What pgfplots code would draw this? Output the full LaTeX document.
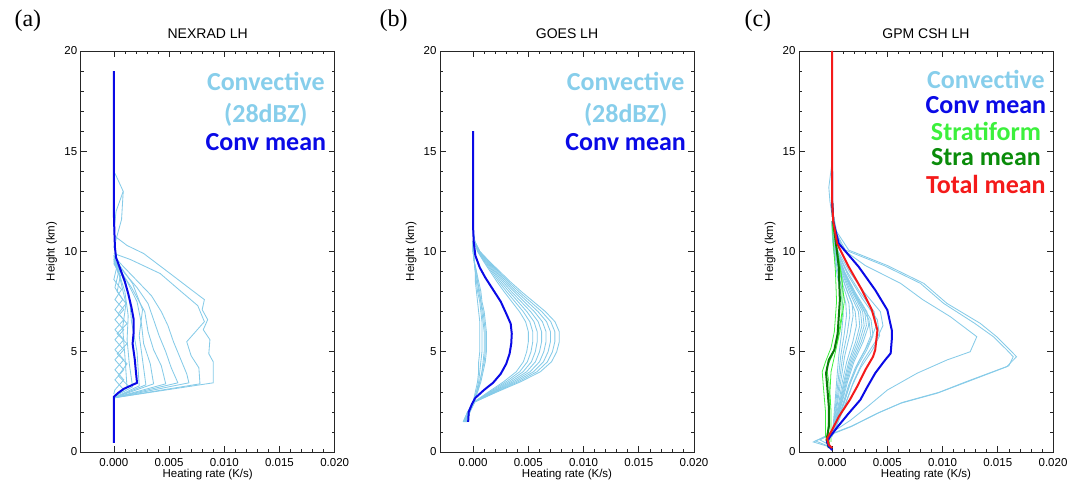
\documentclass[border=0pt]{standalone}
\usepackage{fontspec}
\setmainfont{Liberation Sans}
\newfontfamily\serifpanel{Liberation Serif}
\newfontfamily\calibri{Carlito}
\usepackage{pgfplots}
\pgfplotsset{compat=1.18}

\definecolor{LightConv}{HTML}{86CBE8}
\definecolor{ConvText}{HTML}{87CEEB}
\definecolor{MeanBlue}{HTML}{0A0AE6}
\definecolor{StraLight}{HTML}{3CF03C}
\definecolor{StraDark}{HTML}{0A7A0A}
\definecolor{StraText}{HTML}{0A8C0A}
\definecolor{TotRed}{HTML}{F41A1A}

\pgfplotsset{
  panel/.style={
    scale only axis, width=254pt, height=401pt, anchor=south west,
    xmin=-0.003, xmax=0.02, ymin=0, ymax=20,
    xtick={0,0.005,0.01,0.015,0.02}, ytick={0,5,10,15,20},
    minor x tick num=4, minor y tick num=4,
    tick align=inside, major tick length=6pt, minor tick length=3pt,
    scaled x ticks=false,
    axis line style={black!85, line width=0.8pt},
    every tick/.style={black!85, line width=0.6pt},
    /pgf/number format/assume math mode=true,
    xticklabel style={/pgf/number format/.cd, fixed, fixed zerofill, precision=3, /tikz/.cd, yshift=-3pt},
    ticklabel style={font=\fontsize{11.5}{13}\selectfont},
    xlabel={Heating rate (K/s)}, ylabel={Height (km)},
    label style={font=\fontsize{11.5}{13}\selectfont},
    xlabel style={at={(axis description cs:0.5,-0.057)}, anchor=center},
    ylabel style={at={(axis description cs:-0.114,0.5)}, anchor=center},
    title style={at={(axis description cs:0.5,1.027)}, anchor=center, font=\fontsize{14}{16}\selectfont},
  },
  cv/.style={color=LightConv, line width=0.85pt, mark=none},
  mn/.style={line width=2pt, mark=none},
}
\newcommand{\lbl}{\calibri\bfseries\fontsize{26}{30}\selectfont}

\begin{document}
\begin{tikzpicture}[x=1pt,y=1pt]
\useasboundingbox (0,0) rectangle (1070,484);

% ---------------- (a) NEXRAD ----------------
\begin{axis}[panel, at={(80.7pt,32pt)}, title={NEXRAD LH}]
\addplot[cv] coordinates {(0,2.7) (0.0090,3.45) (0.0090,4.5) (0.0086,4.9) (0.0087,5.6) (0.0081,6.1) (0.0085,6.6) (0.0080,7.1) (0.0082,7.6) (0.0070,8.1) (0.0051,8.9) (0.0027,9.9) (0.0012,10.3) (0,10.8)};
\addplot[cv] coordinates {(0,2.7) (0.0078,3.4) (0.0077,4.2) (0.0070,4.8) (0.0066,5.5) (0.0074,6.0) (0.0082,6.5) (0.0076,7.3) (0.0061,8.0) (0.0042,8.9) (0.0015,9.6) (0,9.9)};
\addplot[cv] coordinates {(0,2.7) (0.0068,3.45) (0.0066,3.9) (0.0060,4.7) (0.0054,5.5) (0.0049,6.3) (0.0043,7.0) (0.0034,7.8) (0.0020,8.6) (0.0006,9.4) (0,9.8)};
\addplot[cv] coordinates {(0,2.7) (0.0058,3.45) (0.0052,4.2) (0.0047,5.0) (0.0041,5.8) (0.0036,6.6) (0.0031,7.4) (0.0021,8.2) (0.0007,9.1) (0,9.6)};
\addplot[cv] coordinates {(0,2.7) (0.0047,3.4) (0.0043,4.3) (0.0036,5.1) (0.0031,6.0) (0.0028,7.0) (0.0016,8.2) (0.0004,9.2) (0,9.5)};
\addplot[cv] coordinates {(0,2.7) (0.0036,3.4) (0.0033,4.4) (0.0027,5.4) (0.0025,6.4) (0.0021,7.5) (0.0012,8.5) (0,9.4)};
\addplot[cv] coordinates {(0,2.7) (0.0029,3.35) (0.0026,4.6) (0.0023,5.8) (0.0026,7.1) (0.0017,8.4) (0.0004,9.4) (0,9.8)};
\addplot[cv] coordinates {(0,2.7) (0.0023,3.3) (0.0021,5.0) (0.0016,6.5) (0.0014,7.8) (0.0006,9.0) (0,9.6)};
\addplot[cv] coordinates {(0,2.75) (0.0017,3.25) (0.0014,4.4) (0.0012,5.6) (0.0013,6.8) (0.0010,8.0) (0.0003,9.2) (0,9.7)};
\addplot[cv] coordinates {(0,2.8) (0.0012,3.2) (0.0010,4.8) (0.0008,6.2) (0.0011,7.4) (0.0005,8.8) (0,9.5)};
\addplot[cv] coordinates {(0,2.7) (0.0009,3.1) (0.0001,3.6) (0.0009,4.1) (0.0001,4.6) (0.0009,5.1) (0.0001,5.6) (0.0009,6.1) (0.0001,6.6) (0.0009,7.1) (0.0001,7.6) (0.0007,8.1) (0,8.6) (0.0003,9.3) (0,9.8)};
\addplot[cv] coordinates {(0,2.9) (0.0001,3.1) (0.0009,3.6) (0.0001,4.1) (0.0009,4.6) (0.0001,5.1) (0.0009,5.6) (0.0001,6.1) (0.0009,6.6) (0.0001,7.1) (0.0008,7.6) (0.0001,8.2) (0.0004,8.9) (0,9.6)};
\addplot[cv] coordinates {(0,2.75) (0.0013,3.3) (0.0004,3.8) (0.0012,4.4) (0.0003,4.9) (0.0012,5.4) (0.0003,5.9) (0.0012,6.4) (0.0004,6.9) (0.0011,7.4) (0.0003,8.0) (0.0006,8.8) (0,9.4)};
\addplot[cv] coordinates {(0,11.0) (0.0002,12.0) (0.00085,13.0) (0.0001,13.9)};
\addplot[cv] coordinates {(0,10.2) (0.0003,10.8) (0.0007,11.6) (0.00085,13.0)};
\addplot[mn, MeanBlue] coordinates {(0,0.45) (0,2.75) (0.0004,2.95) (0.0009,3.15) (0.0015,3.3) (0.0021,3.45) (0.0020,4.0) (0.0019,4.6) (0.0017,5.4) (0.0018,6.0) (0.0018,6.6) (0.0016,7.2) (0.0013,7.9) (0.0010,8.5) (0.0006,9.1) (0.0002,9.7) (0.0001,10.2) (0.00005,11) (0,12) (0,19)};
\node[anchor=base, text=ConvText, font=\lbl] at (rel axis cs:0.729,0.901) {Convective};
\node[anchor=base, text=ConvText, font=\lbl] at (rel axis cs:0.729,0.821) {(28dBZ)};
\node[anchor=base, text=MeanBlue, font=\lbl] at (rel axis cs:0.729,0.751) {Conv mean};
\end{axis}

% ---------------- (b) GOES ----------------
\begin{axis}[panel, at={(440pt,32pt)}, title={GOES LH}]
% weak profiles near zero
\addplot[cv] coordinates {(-0.0008,1.5) (-0.0004,2.0) (0.0000,2.5) (0.0004,3.0) (0.0007,3.5) (0.0009,4.0) (0.0011,4.5) (0.0012,5.0) (0.0012,5.5) (0.0012,6.0) (0.0011,6.5) (0.0010,7.0) (0.0008,7.5) (0.0007,8.0) (0.0005,8.5) (0.0003,9.0) (0.0001,9.5) (0.0000,10.0) (0.0000,10.5)};
\addplot[cv] coordinates {(-0.0009,1.5) (-0.0005,2.0) (0.0000,2.5) (0.0003,3.0) (0.0006,3.5) (0.0008,4.0) (0.0009,4.5) (0.0010,5.0) (0.0010,5.5) (0.0010,6.0) (0.0009,6.5) (0.0008,7.0) (0.0007,7.5) (0.0005,8.0) (0.0004,8.5) (0.0002,9.0) (0.0001,9.5) (0.0000,10.0) (0.0000,10.5)};
\addplot[cv] coordinates {(-0.0007,1.5) (-0.0004,2.0) (0.0000,2.5) (0.0003,3.0) (0.0005,3.5) (0.0006,4.0) (0.0007,4.5) (0.0008,5.0) (0.0008,5.5) (0.0008,6.0) (0.0008,6.5) (0.0007,7.0) (0.0006,7.5) (0.0004,8.0) (0.0003,8.5) (0.0002,9.0) (0.0001,9.5) (0.0000,10.0) (0.0000,10.5)};
\addplot[cv] coordinates {(-0.0005,1.5) (-0.0003,2.0) (0.0000,2.5) (0.0002,3.0) (0.0004,3.5) (0.0005,4.0) (0.0005,4.5) (0.0006,5.0) (0.0006,5.5) (0.0006,6.0) (0.0006,6.5) (0.0005,7.0) (0.0004,7.5) (0.0003,8.0) (0.0002,8.5) (0.0002,9.0) (0.0001,9.5) (0.0000,10.0) (0.0000,10.5)};
\addplot[cv] coordinates {(-0.0006,1.5) (-0.0003,2.0) (0.0000,2.5) (0.0004,3.0) (0.0006,3.5) (0.0008,4.0) (0.0010,4.5) (0.0011,5.0) (0.0011,5.5) (0.0011,6.0) (0.0010,6.5) (0.0009,7.0) (0.0007,7.5) (0.0006,8.0) (0.0004,8.5) (0.0003,9.0) (0.0001,9.5) (0.0000,10.0) (0.0000,10.5)};
% strong profiles
\addplot[cv] coordinates {(-0.0006,1.5) (-0.0003,2.0) (0.00016,2.5) (0.00218,3.0) (0.00429,3.5) (0.00608,4.0) (0.0071,4.5) (0.00757,5.0) (0.0078,5.5) (0.0078,6.0) (0.00741,6.5) (0.00655,7.0) (0.00546,7.5) (0.00437,8.0) (0.00335,8.5) (0.00242,9.0) (0.00148,9.5) (0.00062,10.0) (0.00016,10.5) (0,11.0)};
\addplot[cv] coordinates {(-0.0007,1.5) (-0.0004,2.0) (0.00015,2.5) (0.00207,3.0) (0.00407,3.5) (0.00577,4.0) (0.00673,4.5) (0.00718,5.0) (0.0074,5.5) (0.0074,6.0) (0.00703,6.5) (0.00622,7.0) (0.00518,7.5) (0.00414,8.0) (0.00318,8.5) (0.00229,9.0) (0.00141,9.5) (0.00059,10.0) (0.00015,10.5) (0,11.0)};
\addplot[cv] coordinates {(-0.0008,1.5) (-0.0004,2.0) (0.00014,2.5) (0.00196,3.0) (0.00385,3.5) (0.00546,4.0) (0.00637,4.5) (0.00679,5.0) (0.0070,5.5) (0.0070,6.0) (0.00665,6.5) (0.00588,7.0) (0.0049,7.5) (0.00392,8.0) (0.00301,8.5) (0.00217,9.0) (0.00133,9.5) (0.00056,10.0) (0.00014,10.5) (0,11.0)};
\addplot[cv] coordinates {(-0.0009,1.5) (-0.0005,2.0) (0.00013,2.5) (0.00185,3.0) (0.00363,3.5) (0.00515,4.0) (0.00601,4.5) (0.0064,5.0) (0.0066,5.5) (0.0066,6.0) (0.00627,6.5) (0.00554,7.0) (0.00462,7.5) (0.0037,8.0) (0.00284,8.5) (0.00205,9.0) (0.00125,9.5) (0.00053,10.0) (0.00013,10.5) (0,11.0)};
\addplot[cv] coordinates {(-0.0006,1.5) (-0.0003,2.0) (0.00012,2.5) (0.00174,3.0) (0.00341,3.5) (0.00484,4.0) (0.00564,4.5) (0.00601,5.0) (0.0062,5.5) (0.0062,6.0) (0.00589,6.5) (0.00521,7.0) (0.00434,7.5) (0.00347,8.0) (0.00267,8.5) (0.00192,9.0) (0.00118,9.5) (0.0005,10.0) (0.00012,10.5) (0,11.0)};
\addplot[cv] coordinates {(-0.0007,1.5) (-0.0004,2.0) (0.00012,2.5) (0.00162,3.0) (0.00319,3.5) (0.00452,4.0) (0.00528,4.5) (0.00563,5.0) (0.0058,5.5) (0.0058,6.0) (0.00551,6.5) (0.00487,7.0) (0.00406,7.5) (0.00325,8.0) (0.00249,8.5) (0.0018,9.0) (0.0011,9.5) (0.00046,10.0) (0.00012,10.5) (0,11.0)};
\addplot[cv] coordinates {(-0.0008,1.5) (-0.0004,2.0) (0.00011,2.5) (0.00151,3.0) (0.00297,3.5) (0.00421,4.0) (0.00491,4.5) (0.00524,5.0) (0.0054,5.5) (0.0054,6.0) (0.00513,6.5) (0.00454,7.0) (0.00378,7.5) (0.00302,8.0) (0.00232,8.5) (0.00167,9.0) (0.00103,9.5) (0.00043,10.0) (0.00011,10.5) (0,11.0)};
\addplot[cv] coordinates {(-0.0006,1.5) (-0.0003,2.0) (0.0001,2.5) (0.0014,3.0) (0.00275,3.5) (0.0039,4.0) (0.00455,4.5) (0.00485,5.0) (0.005,5.5) (0.005,6.0) (0.00475,6.5) (0.0042,7.0) (0.0035,7.5) (0.0028,8.0) (0.00215,8.5) (0.00155,9.0) (0.00095,9.5) (0.0004,10.0) (0.0001,10.5) (0,11.0)};
\addplot[mn, MeanBlue] coordinates {(-0.00045,1.5) (-0.0004,2.0) (-0.0001,2.4) (0.0002,2.7) (0.0010,3.1) (0.0018,3.45) (0.0025,3.9) (0.0030,4.4) (0.0033,4.9) (0.00345,5.4) (0.0035,5.9) (0.0034,6.4) (0.0030,6.9) (0.0025,7.5) (0.0018,8.1) (0.0011,8.7) (0.0006,9.2) (0.0002,9.8) (0.00005,10.5) (0,11.2) (0,16)};
\node[anchor=base, text=ConvText, font=\lbl] at (rel axis cs:0.731,0.901) {Convective};
\node[anchor=base, text=ConvText, font=\lbl] at (rel axis cs:0.731,0.821) {(28dBZ)};
\node[anchor=base, text=MeanBlue, font=\lbl] at (rel axis cs:0.731,0.751) {Conv mean};
\end{axis}

% ---------------- (c) GPM CSH ----------------
\begin{axis}[panel, at={(799pt,32pt)}, title={GPM CSH LH}]
\addplot[cv] coordinates {(0,0.8) (0.00012,1.5) (0.00028,2.6) (0.00042,3.6) (0.0006,4.8) (0.00085,5.9) (0.001,6.8) (0.00095,7.4) (0.00062,8.3) (0.00034,9.2) (0.00012,10.1) (0.00002,10.8) (0,11.5)};
\addplot[cv] coordinates {(0,0.8) (0.00016,1.5) (0.00036,2.6) (0.00055,3.6) (0.00078,4.8) (0.0011,5.9) (0.0013,6.8) (0.00124,7.4) (0.00081,8.3) (0.00044,9.2) (0.00016,10.1) (0.00003,10.8) (0,11.5)};
\addplot[cv] coordinates {(0,0.8) (0.00019,1.5) (0.00045,2.6) (0.00067,3.6) (0.00096,4.8) (0.00136,5.9) (0.0016,6.8) (0.00152,7.4) (0.00099,8.3) (0.00054,9.2) (0.00019,10.1) (0.00003,10.8) (0,11.5)};
\addplot[cv] coordinates {(0,0.8) (0.00023,1.5) (0.00053,2.6) (0.0008,3.6) (0.00114,4.8) (0.00162,5.9) (0.0019,6.8) (0.00181,7.4) (0.00118,8.3) (0.00065,9.2) (0.00023,10.1) (0.00004,10.8) (0,11.5)};
\addplot[cv] coordinates {(0,0.8) (0.00026,1.5) (0.00062,2.5) (0.00092,3.5) (0.00132,4.5) (0.00187,5.5) (0.0022,6.3) (0.00209,7.0) (0.00136,8.0) (0.00075,9.0) (0.00026,10.0) (0.00004,10.8) (0,11.5)};
\addplot[cv] coordinates {(0,0.8) (0.0003,1.5) (0.0007,2.5) (0.00105,3.5) (0.0015,4.5) (0.00213,5.5) (0.0025,6.3) (0.00238,7.0) (0.00155,8.0) (0.00085,9.0) (0.0003,10.0) (0.00005,10.8) (0,11.5)};
\addplot[cv] coordinates {(0,0.8) (0.00032,1.5) (0.00076,2.5) (0.00113,3.5) (0.00162,4.5) (0.0023,5.5) (0.0027,6.3) (0.00257,7.0) (0.00167,8.0) (0.00092,9.0) (0.00032,10.0) (0.00005,10.8) (0,11.5)};
\addplot[cv] coordinates {(0,0.8) (0.00035,1.5) (0.00081,2.5) (0.00122,3.5) (0.00174,4.5) (0.00247,5.5) (0.0029,6.3) (0.00276,7.0) (0.0018,8.0) (0.00099,9.0) (0.00035,10.0) (0.00006,10.8) (0,11.5)};
\addplot[cv] coordinates {(0,0.8) (0.00037,1.5) (0.00087,2.5) (0.0013,3.5) (0.00186,4.5) (0.00264,5.5) (0.0031,6.3) (0.00295,7.0) (0.00192,8.0) (0.00105,9.0) (0.00037,10.0) (0.00006,10.8) (0,11.5)};
\addplot[cv] coordinates {(0,0.8) (0.0004,1.5) (0.00092,2.5) (0.00139,3.5) (0.00198,4.5) (0.00281,5.5) (0.0033,6.3) (0.00314,7.0) (0.00205,8.0) (0.00112,9.0) (0.0004,10.0) (0.00007,10.8) (0,11.5)};
\addplot[cv] coordinates {(0,0.8) (0.00042,1.5) (0.00098,2.4) (0.00147,3.3) (0.0021,4.2) (0.00298,5.1) (0.0035,5.8) (0.00333,6.6) (0.00217,7.7) (0.00119,8.8) (0.00042,9.9) (0.00007,10.8) (0,11.5)};
\addplot[cv] coordinates {(0,0.8) (0.00044,1.5) (0.00104,2.4) (0.00155,3.3) (0.00222,4.2) (0.00315,5.1) (0.0037,5.8) (0.00352,6.6) (0.00229,7.7) (0.00126,8.8) (0.00044,9.9) (0.00007,10.8) (0,11.5)};
\addplot[cv] coordinates {(0,0.8) (0.00048,1.5) (0.00112,2.5) (0.00168,3.5) (0.0024,4.5) (0.0034,5.5) (0.004,6.3) (0.0038,7.0) (0.00248,8.0) (0.00136,9.0) (0.00048,10.0) (0.00008,10.8) (0,11.5)};
\addplot[cv] coordinates {(0,0.8) (0.00052,1.5) (0.0012,2.4) (0.00181,3.3) (0.00258,4.2) (0.00366,5.1) (0.0043,5.8) (0.00409,6.6) (0.00267,7.7) (0.00146,8.8) (0.00052,9.9) (0.00009,10.8) (0,11.5)};
\addplot[cv] coordinates {(0,0.8) (0.00055,1.5) (0.00129,2.5) (0.00193,3.5) (0.00276,4.5) (0.00391,5.5) (0.0046,6.3) (0.00437,7.0) (0.00285,8.0) (0.00156,9.0) (0.00055,10.0) (0.00009,10.8) (0,11.5)};
\addplot[cv] coordinates {(0,0.2) (-0.0005,0.3) (-0.0017,0.5) (-0.0002,0.9) (0.0017,1.6) (0.0032,2.26) (0.0050,3.09) (0.0077,3.93) (0.0104,4.59) (0.0125,5.0) (0.0131,5.75) (0.0107,6.75) (0.0082,7.6) (0.0062,8.41) (0.0030,9.3) (0.00105,10.07) (0.0003,11) (0,12)};
\addplot[cv] coordinates {(0,0.2) (-0.0006,0.35) (-0.0015,0.55) (-0.0002,0.85) (0.0017,1.26) (0.0041,1.93) (0.0062,2.43) (0.0095,2.93) (0.0119,3.43) (0.0158,4.25) (0.0167,4.75) (0.0161,5.09) (0.0149,5.75) (0.0134,6.42) (0.0104,7.41) (0.0083,8.41) (0.0050,9.3) (0.0015,10.07) (0.0004,11) (0.0001,11.9) (0,12.5)};
\addplot[cv] coordinates {(0,0.2) (-0.0004,0.4) (-0.0011,0.6) (-0.0001,0.9) (0.0018,1.3) (0.0043,1.98) (0.0064,2.48) (0.0097,2.98) (0.0121,3.5) (0.0160,4.3) (0.0164,4.75) (0.0158,5.1) (0.0146,5.75) (0.0129,6.42) (0.0101,7.41) (0.0080,8.41) (0.0047,9.3) (0.0012,10.07) (0.0003,11) (0,12)};
\addplot[cv] coordinates {(0,11.8) (-0.0002,12.5) (-0.0003,13.2) (0,14.5)};
\addplot[StraLight, line width=0.8pt, mark=none] coordinates {(-0.0003,0.3) (-0.0006,0.8) (-0.0006,2.0) (-0.0008,3.3) (-0.0009,4.0) (-0.0006,4.5) (-0.0001,5.2) (0.0002,6.0) (0.0004,7.5) (0.0003,9.0) (0.0001,10.5) (0,11.5)};
\addplot[StraLight, line width=0.8pt, mark=none] coordinates {(-0.0002,0.3) (-0.0004,1.0) (-0.0002,2.5) (-0.0003,3.5) (-0.0005,4.2) (0,4.8) (0.0005,5.6) (0.0009,7.0) (0.0009,8.5) (0.0005,10.0) (0.0001,11.2) (0,12)};
\addplot[StraLight, line width=0.8pt, mark=none] coordinates {(-0.0001,0.5) (-0.0001,2.0) (-0.0002,3.0) (-0.0001,4.0) (0.0003,5.0) (0.0007,6.0) (0.0011,7.5) (0.0008,9.0) (0.0003,10.5) (0,11.5)};
\addplot[mn, StraDark] coordinates {(-0.0003,0.2) (-0.0005,0.6) (-0.0003,1.26) (-0.0003,2.26) (-0.00045,3.3) (-0.00055,3.93) (-0.0003,4.59) (0.0002,5.09) (0.0005,5.9) (0.0007,7.58) (0.0006,9.24) (0.0003,10.6) (0.0001,11.5) (0,12.5)};
\addplot[mn, MeanBlue] coordinates {(0,0.1) (-0.0003,0.27) (-0.00045,0.51) (-0.0002,0.76) (0.0005,1.26) (0.0015,1.93) (0.00255,2.6) (0.0032,3.26) (0.0039,3.93) (0.0048,4.59) (0.0053,4.92) (0.0054,5.6) (0.0054,6.08) (0.0050,7.08) (0.0039,8.08) (0.0024,9.24) (0.0006,10.4) (0.0001,11.5) (0,12.5) (0,14)};
\addplot[mn, TotRed] coordinates {(0,0.2) (-0.0003,0.35) (-0.00045,0.68) (0,1.1) (0.0006,1.76) (0.0016,2.6) (0.00226,3.26) (0.0030,4.09) (0.0037,4.75) (0.0039,5.09) (0.0041,6.08) (0.0036,7.08) (0.0027,8.08) (0.0015,9.24) (0.00045,10.4) (0.0001,11.5) (0,12.5) (0,20)};
\node[anchor=base, text=ConvText, font=\lbl] at (rel axis cs:0.736,0.907) {Convective};
\node[anchor=base, text=MeanBlue, font=\lbl] at (rel axis cs:0.736,0.843) {Conv mean};
\node[anchor=base, text=StraLight, font=\lbl] at (rel axis cs:0.736,0.776) {Stratiform};
\node[anchor=base, text=StraText, font=\lbl] at (rel axis cs:0.736,0.714) {Stra mean};
\node[anchor=base, text=TotRed, font=\lbl] at (rel axis cs:0.736,0.645) {Total mean};
\end{axis}

\node[anchor=base west, font=\serifpanel\fontsize{24}{28}\selectfont] at (11,457) {(a)};
\node[anchor=base west, font=\serifpanel\fontsize{24}{28}\selectfont] at (376,457) {(b)};
\node[anchor=base west, font=\serifpanel\fontsize{24}{28}\selectfont] at (741,457) {(c)};
\end{tikzpicture}
\end{document}
